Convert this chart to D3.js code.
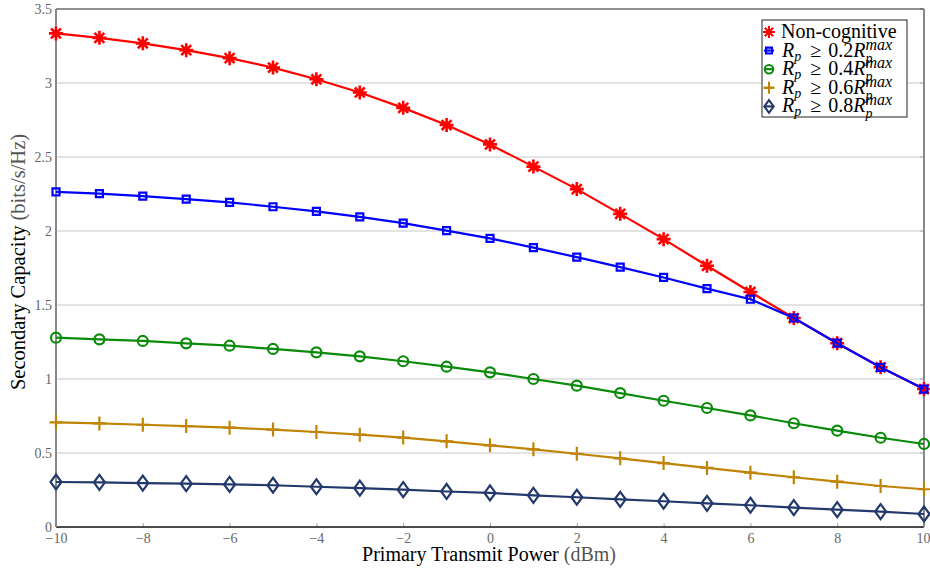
<!DOCTYPE html>
<html>
<head>
<meta charset="utf-8">
<script src="https://cdn.jsdelivr.net/npm/d3@7"></script>
<style>
  body { margin: 0; background: #fff; }
  text { font-family: "Liberation Serif", "Times New Roman", serif; }
</style>
</head>
<body>
<div id="chart"></div>
<script>
// data
var powers = [-10,-9,-8,-7,-6,-5,-4,-3,-2,-1,0,1,2,3,4,5,6,7,8,9,10];
var nonCognitive = [3.335,3.305,3.268,3.222,3.168,3.104,3.025,2.936,2.832,2.716,2.585,2.435,2.283,2.116,1.945,1.765,1.588,1.412,1.242,1.079,0.932];
var rp02 = [2.264,2.252,2.236,2.216,2.194,2.164,2.133,2.096,2.053,2.003,1.950,1.888,1.823,1.756,1.686,1.611,1.539,1.412,1.242,1.079,0.932];
var rp04 = [1.279,1.268,1.257,1.241,1.225,1.203,1.180,1.153,1.120,1.083,1.045,1.000,0.955,0.905,0.853,0.804,0.754,0.701,0.651,0.603,0.561];
var rp06 = [0.707,0.700,0.691,0.682,0.671,0.658,0.642,0.624,0.604,0.579,0.552,0.525,0.495,0.464,0.432,0.399,0.367,0.336,0.306,0.277,0.255];
var rp08 = [0.304,0.302,0.297,0.293,0.288,0.282,0.272,0.262,0.252,0.240,0.230,0.214,0.201,0.187,0.174,0.160,0.147,0.131,0.117,0.104,0.088];
var xTicks = [-10,-8,-6,-4,-2,0,2,4,6,8,10];
var yTicks = [0,0.5,1,1.5,2,2.5,3,3.5];

var series = [
  {name: "Non-cognitive", values: nonCognitive, color: "#ff0000", marker: "star"},
  {name: "0.2", values: rp02, color: "#0000ff", marker: "square"},
  {name: "0.4", values: rp04, color: "#0a8a0a", marker: "circle"},
  {name: "0.6", values: rp06, color: "#c08405", marker: "plus"},
  {name: "0.8", values: rp08, color: "#23396b", marker: "diamond"}
];

var width = 930, height = 569;
var margin = {top: 9, right: 6, bottom: 42, left: 56};
var w = 924 - margin.left, h = 527 - margin.top;

var svg = d3.select("#chart").append("svg")
  .attr("width", width)
  .attr("height", height);

var g = svg.append("g").attr("transform", "translate(" + margin.left + "," + margin.top + ")");

var x = d3.scaleLinear().domain([-10, 10]).range([0, w]);
var y = d3.scaleLinear().domain([0, 3.5]).range([h, 0]);

// grid
g.selectAll(".grid")
  .data(yTicks.filter(function(d){ return d > 0 && d < 3.5; }))
  .enter().append("line")
  .attr("class", "grid")
  .attr("x1", 0).attr("x2", w)
  .attr("y1", function(d){ return y(d); })
  .attr("y2", function(d){ return y(d); })
  .attr("stroke", "#c8c8c8")
  .attr("stroke-width", 1);

// x axis
var xAxis = g.append("g")
  .attr("transform", "translate(0," + h + ")")
  .call(d3.axisBottom(x).tickValues(xTicks).tickSizeInner(-4).tickSizeOuter(0)
    .tickPadding(6).tickFormat(function(d){ return d < 0 ? "\u2212" + (-d) : d; }));
xAxis.select(".domain").remove();
xAxis.selectAll(".tick line").attr("stroke", "#aaa");
xAxis.selectAll(".tick text").attr("fill", "#666").style("font-size", "14px")
  .style("font-family", "'Liberation Serif', serif");
// last label sits at the window edge, keep it inside
xAxis.selectAll(".tick text").filter(function(d){ return d === 10; })
  .attr("text-anchor", "end").attr("dx", 6);

// y axis
var yAxis = g.append("g")
  .call(d3.axisLeft(y).tickValues(yTicks).tickSize(0).tickPadding(4)
    .tickFormat(function(d){ return d; }));
yAxis.select(".domain").remove();
yAxis.selectAll(".tick text").attr("fill", "#666").style("font-size", "14px")
  .style("font-family", "'Liberation Serif', serif");

// right side ticks
g.selectAll(".rtick")
  .data(yTicks)
  .enter().append("line")
  .attr("x1", w - 4).attr("x2", w)
  .attr("y1", function(d){ return y(d); })
  .attr("y2", function(d){ return y(d); })
  .attr("stroke", "#aaa");

// frame
g.append("line").attr("x1", 0).attr("x2", w).attr("y1", 0).attr("y2", 0)
  .attr("stroke", "#222").attr("stroke-width", 1);
g.append("line").attr("x1", 0).attr("x2", w).attr("y1", h).attr("y2", h)
  .attr("stroke", "#111").attr("stroke-width", 1.6);
g.append("line").attr("x1", 0).attr("x2", 0).attr("y1", 0).attr("y2", h)
  .attr("stroke", "#888").attr("stroke-width", 2);
g.append("line").attr("x1", w).attr("x2", w).attr("y1", 0).attr("y2", h)
  .attr("stroke", "#888").attr("stroke-width", 2);

// marker shapes
function markerPath(type) {
  var p = d3.path();
  if (type === "star") {
    var r = 7;
    for (var k = 0; k < 4; k++) {
      var a = k * Math.PI / 4;
      p.moveTo(-r * Math.cos(a), -r * Math.sin(a));
      p.lineTo(r * Math.cos(a), r * Math.sin(a));
    }
  } else if (type === "square") {
    p.rect(-3.5, -3.5, 7, 7);
  } else if (type === "circle") {
    p.arc(0, 0, 5, 0, 2 * Math.PI);
  } else if (type === "plus") {
    p.moveTo(-6.5, 0); p.lineTo(6.5, 0);
    p.moveTo(0, -7); p.lineTo(0, 7);
  } else if (type === "diamond") {
    p.moveTo(0, -7.5); p.lineTo(5.5, 0); p.lineTo(0, 7.5); p.lineTo(-5.5, 0); p.closePath();
  }
  return p.toString();
}

var line = d3.line()
  .x(function(d){ return x(d[0]); })
  .y(function(d){ return y(d[1]); });

var plot = g.append("g");
series.forEach(function(s) {
  var pts = powers.map(function(p, i){ return [p, s.values[i]]; });
  var sg = plot.append("g");
  sg.append("path")
    .attr("d", line(pts))
    .attr("fill", "none")
    .attr("stroke", s.color)
    .attr("stroke-width", 2.2);
  sg.selectAll("path.mk")
    .data(pts)
    .enter().append("path")
    .attr("class", "mk")
    .attr("transform", function(d){ return "translate(" + x(d[0]) + "," + y(d[1]) + ")"; })
    .attr("d", markerPath(s.marker))
    .attr("fill", "none")
    .attr("stroke", s.color)
    .attr("stroke-width", s.marker === "star" ? 2.6 : 2.2);
});

// axis labels
var yl = svg.append("text")
  .attr("transform", "translate(25,262) rotate(-90)")
  .attr("text-anchor", "middle")
  .style("font-size", "20.5px");
yl.append("tspan").attr("fill", "#000").text("Secondary Capacity ");
yl.append("tspan").attr("fill", "#555").text("(bits/s/Hz)");

var xl = svg.append("text")
  .attr("x", 489).attr("y", 561)
  .attr("text-anchor", "middle")
  .style("font-size", "20px");
xl.append("tspan").attr("fill", "#000").text("Primary Transmit Power ");
xl.append("tspan").attr("fill", "#555").text("(dBm)");

// legend
var lg = svg.append("g").attr("transform", "translate(762,20)");
lg.append("rect")
  .attr("width", 145).attr("height", 97)
  .attr("fill", "#fff")
  .attr("stroke", "#222").attr("stroke-width", 1);

series.forEach(function(s, i) {
  var cy = 12 + i * 18.6;
  var row = lg.append("g").attr("transform", "translate(0," + cy + ")");
  row.append("line").attr("x1", 2).attr("x2", 12).attr("stroke", s.color).attr("stroke-width", 2.2);
  row.append("path")
    .attr("transform", "translate(7,0) scale(0.85)")
    .attr("d", markerPath(s.marker))
    .attr("fill", "none")
    .attr("stroke", s.color)
    .attr("stroke-width", 2.4);
  if (i === 0) {
    row.append("text").attr("x", 19).attr("y", 6)
      .style("font-size", "20px").text(s.name);
  } else {
    var t = row.append("text").attr("x", 20).attr("y", 6).style("font-size", "20px");
    t.append("tspan").style("font-style", "italic").text("R");
    t.append("tspan").style("font-style", "italic").style("font-size", "14px").attr("dy", 4).text("p");
    t.append("tspan").attr("dy", -4).attr("dx", 9).text("\u2265");
    t.append("tspan").attr("dx", 7).text(s.name);
    t.append("tspan").style("font-style", "italic").text("R");
    var bb = t.node().getBBox();
    var rx = bb.x + bb.width;
    row.append("text").attr("x", rx).attr("y", -1)
      .style("font-size", "16px").style("font-style", "italic").text("max");
    row.append("text").attr("x", rx).attr("y", 12)
      .style("font-size", "14px").style("font-style", "italic").text("p");
  }
});
</script>
</body>
</html>
